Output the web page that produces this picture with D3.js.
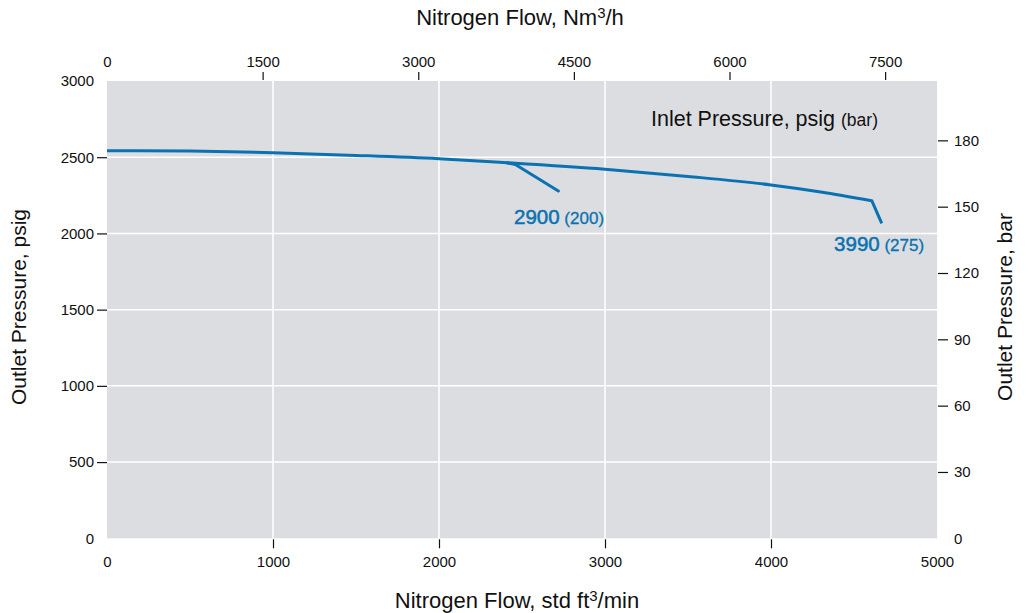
<!DOCTYPE html>
<html><head><meta charset="utf-8">
<script src="https://cdn.jsdelivr.net/npm/d3@7"></script>
<style>
body{margin:0;background:#fff;}
text{font-family:"Liberation Sans",Arial,sans-serif;}
</style></head>
<body><svg id="c" width="1029" height="613"></svg>
<script>
// Data
const flowTicksScfm = [0,1000,2000,3000,4000,5000];
const flowTicksNm3h = [0,1500,3000,4500,6000,7500];
const psigTicks = [0,500,1000,1500,2000,2500,3000];
const barTicks = [0,30,60,90,120,150,180];
// Inlet 3990 psig (275 bar) curve: [scfm, outlet psig]
const curve3990 = [[0,2543],[500,2540],[1000,2530],[1500,2512],[2000,2490],[2408,2464],[3000,2421],[3500,2374],[4000,2318],[4300,2272],[4607,2215],[4667,2066]];
// Inlet 2900 psig (200 bar) branch
const curve2900 = [[2408,2464],[2460,2452],[2719,2278]];
const labels = [
  {main:"2900", sub:"(200)", at:[2452,2062]},
  {main:"3990", sub:"(275)", at:[4380,1885]}
];

const svg = d3.select("#c");
const L=107, R=937, T=81, B=538.3;
const x = d3.scaleLinear().domain([0,5000]).range([L,R]);
const xTop = d3.scaleLinear().domain([0,8000]).range([L,R]);
const y = d3.scaleLinear().domain([0,3000]).range([B,T]);
const yBar = d3.scaleLinear().domain([0,3000/14.5038]).range([B,T]);

svg.append("rect").attr("x",L).attr("y",T).attr("width",R-L).attr("height",B-T).attr("fill","#dcdde0");

// grid
svg.append("g").selectAll("line").data(flowTicksScfm.filter(d=>d>0&&d<5000)).join("line")
  .attr("x1",d=>x(d)).attr("x2",d=>x(d)).attr("y1",T).attr("y2",B)
  .attr("stroke","#fff").attr("stroke-width",1.5);
svg.append("g").selectAll("line").data(psigTicks.filter(d=>d>0&&d<3000)).join("line")
  .attr("y1",d=>y(d)).attr("y2",d=>y(d)).attr("x1",L).attr("x2",R)
  .attr("stroke","#fff").attr("stroke-width",1.5);

function styleAxis(g, edgeTest){
  g.select(".domain").remove();
  g.selectAll(".tick line").attr("stroke","#111").attr("stroke-width",1.2)
    .attr("opacity",d=>edgeTest(d)?0:1);
  g.selectAll(".tick text").attr("fill","#111").style("font-size","15px");
}

const gB = svg.append("g").attr("transform",`translate(0,${B+1})`)
  .call(d3.axisBottom(x).tickValues(flowTicksScfm).tickSize(9).tickPadding(8).tickFormat(d3.format("d")));
styleAxis(gB, d=>d===0||d===5000);

const gT = svg.append("g").attr("transform",`translate(0,${T-1})`)
  .call(d3.axisTop(xTop).tickValues(flowTicksNm3h).tickSize(8).tickPadding(5).tickFormat(d3.format("d")));
styleAxis(gT, d=>d===0);

const gL = svg.append("g").attr("transform",`translate(${L},0)`)
  .call(d3.axisLeft(y).tickValues(psigTicks).tickSize(10).tickPadding(3).tickFormat(d3.format("d")));
styleAxis(gL, d=>d===0||d===3000);

const gR = svg.append("g").attr("transform",`translate(${R+1},0)`)
  .call(d3.axisRight(yBar).tickValues(barTicks).tickSize(10).tickPadding(6).tickFormat(d3.format("d")));
styleAxis(gR, d=>d===0);

// lines
const line = d3.line().x(d=>x(d[0])).y(d=>y(d[1])).curve(d3.curveMonotoneX);
const lineLin = d3.line().x(d=>x(d[0])).y(d=>y(d[1]));
const blue = "#0a72b2";
svg.append("path").attr("d",line(curve3990.slice(0,11))+lineLin(curve3990.slice(10)).replace("M","L"))
  .attr("fill","none").attr("stroke",blue).attr("stroke-width",3).attr("stroke-linejoin","round");
svg.append("path").attr("d",lineLin(curve2900))
  .attr("fill","none").attr("stroke",blue).attr("stroke-width",3).attr("stroke-linecap","round").attr("stroke-linejoin","round");

// curve labels
labels.forEach(l=>{
  const t = svg.append("text").attr("x",x(l.at[0])).attr("y",y(l.at[1]))
    .attr("fill",blue).attr("stroke",blue).attr("stroke-width",0.5).style("font-size","20.5px");
  t.append("tspan").text(l.main);
  t.append("tspan").text(" "+l.sub).style("font-size","17px").attr("stroke-width",0.3);
});

// legend title
const it = svg.append("text").attr("x",651).attr("y",126).attr("fill","#111").style("font-size","21.5px");
it.append("tspan").text("Inlet Pressure, psig ");
it.append("tspan").text("(bar)").style("font-size","17.5px");

// axis titles
const tt = svg.append("text").attr("x",(L+R)/2-2).attr("y",25).attr("text-anchor","middle").attr("fill","#111").style("font-size","22px");
tt.append("tspan").text("Nitrogen Flow, Nm");
tt.append("tspan").text("3").style("font-size","15px").attr("dy",-7);
tt.append("tspan").text("/h").attr("dy",7);

const bt = svg.append("text").attr("x",517).attr("y",608).attr("text-anchor","middle").attr("fill","#111").style("font-size","22px");
bt.append("tspan").text("Nitrogen Flow, std ft");
bt.append("tspan").text("3").style("font-size","15px").attr("dy",-7);
bt.append("tspan").text("/min").attr("dy",7);

svg.append("text").attr("transform",`translate(26,307) rotate(-90)`).attr("text-anchor","middle")
  .attr("fill","#111").style("font-size","21px").text("Outlet Pressure, psig");
svg.append("text").attr("transform",`translate(1012,307) rotate(-90)`).attr("text-anchor","middle")
  .attr("fill","#111").style("font-size","21px").text("Outlet Pressure, bar");
</script></body></html>
